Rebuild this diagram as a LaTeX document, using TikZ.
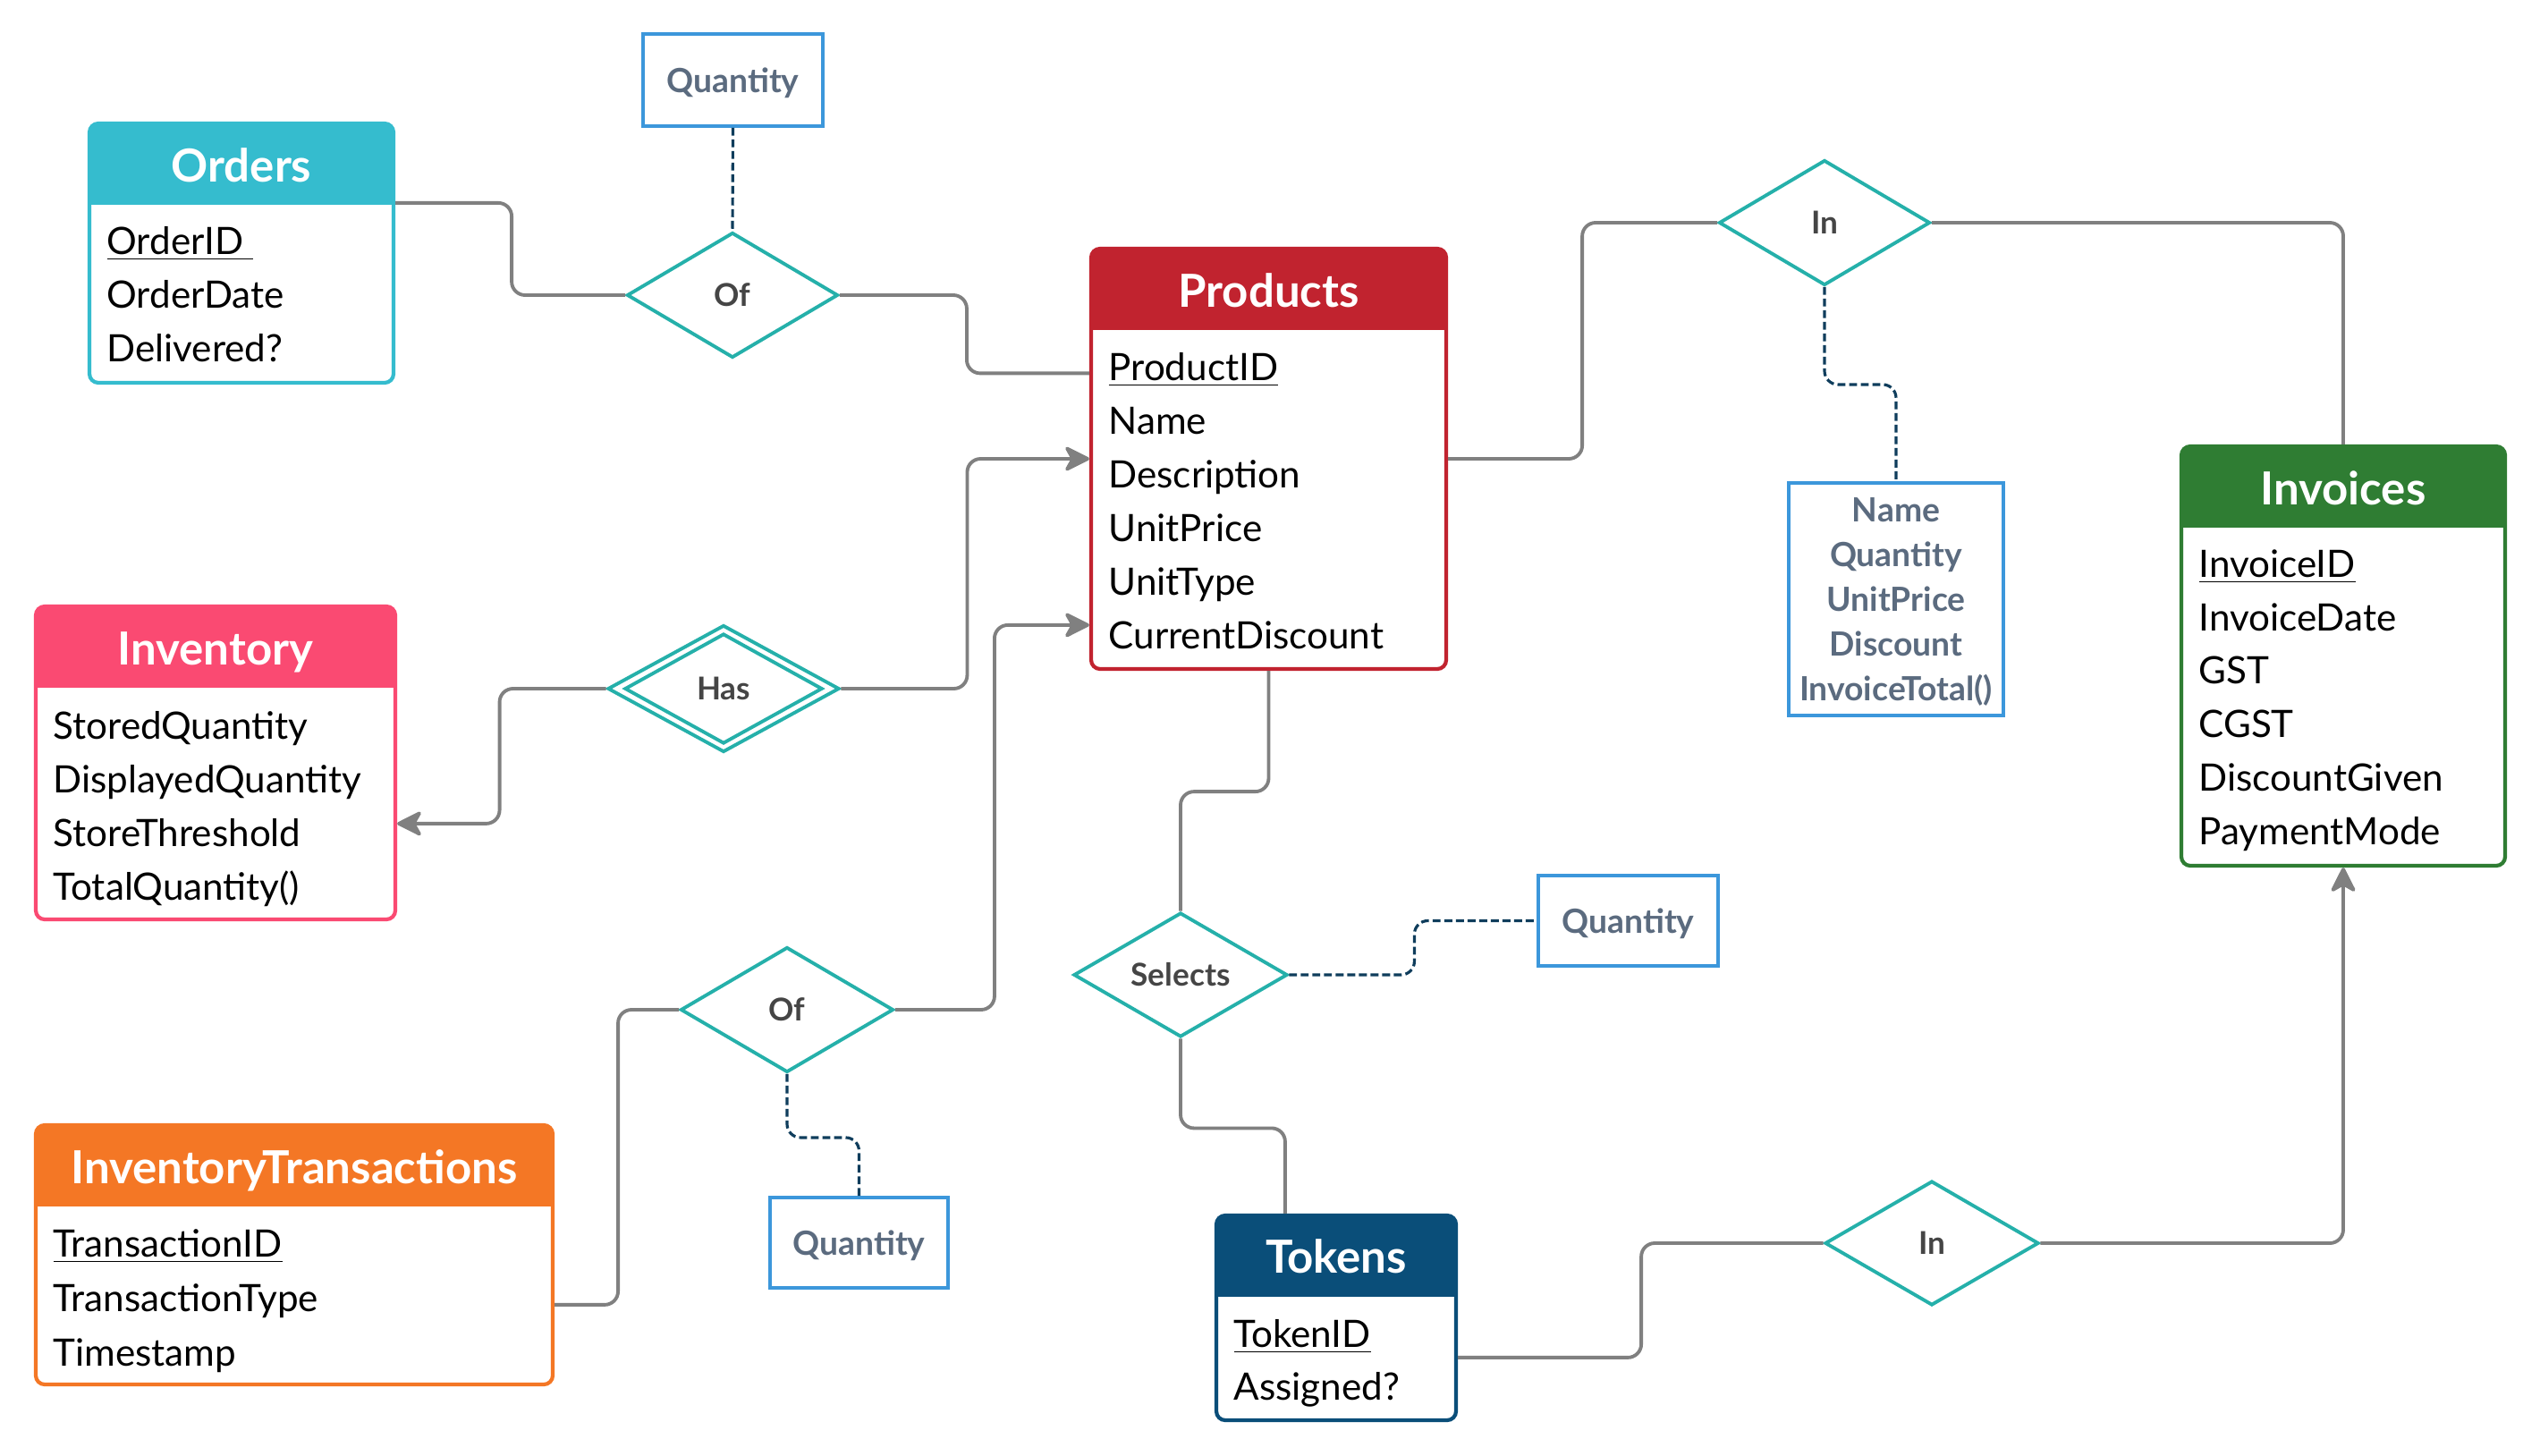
\documentclass[tikz,border=0pt]{standalone}
\usepackage{fontspec}
\setmainfont{Lato}
\usetikzlibrary{shapes.geometric,arrows.meta,positioning}

\definecolor{ordcol}{HTML}{35BCCE}
\definecolor{prodcol}{HTML}{C1232F}
\definecolor{invcol}{HTML}{FA4A72}
\definecolor{transcol}{HTML}{F47725}
\definecolor{tokcol}{HTML}{0A4E79}
\definecolor{billcol}{HTML}{2F7D33}
\definecolor{relcol}{HTML}{25B0AA}
\definecolor{reltext}{HTML}{454545}
\definecolor{attcol}{HTML}{3C97DB}
\definecolor{atttext}{HTML}{5B6B7F}
\definecolor{linkcol}{HTML}{808080}
\definecolor{dashcol}{HTML}{0F3D5C}

\begin{document}
\begin{tikzpicture}[
  entity/.style={draw=#1, fill=white, line width=1.2pt, rounded corners=0.1cm, inner sep=0pt,
    path picture={\fill[#1, sharp corners] (path picture bounding box.north west)
      rectangle ([yshift=-0.91cm]path picture bounding box.north east);}},
  enttitle/.style={text=white, inner sep=0pt, text height=10.4pt, text depth=0pt,
    font=\bfseries\fontsize{14.5}{17}\selectfont},
  entfield/.style={anchor=west, inner sep=0pt, text height=8.6pt, text depth=0pt,
    font=\fontsize{12}{14}\selectfont},
  rel/.style={diamond, draw=relcol, fill=white, line width=1.1pt, inner sep=0pt,
    text=reltext, font=\bfseries\fontsize{10}{12}\selectfont},
  attbox/.style={draw=attcol, line width=1.1pt, inner sep=0pt, align=center, text depth=0pt,
    text=atttext, font=\bfseries\fontsize{10.6}{14.2}\selectfont},
  erlink/.style={draw=linkcol, line width=1.1pt, rounded corners=0.15cm},
  erarrow/.style={erlink, -{Stealth[length=9pt,width=9pt,inset=2.5pt,round]}},
  erdash/.style={draw=dashcol, line width=0.9pt, dash pattern=on 2.5pt off 1.2pt, rounded corners=0.15cm},
]
\useasboundingbox (0,0) rectangle (28.4,-16.28);

% Orders
\node[entity=ordcol, minimum width=3.40cm, minimum height=2.90cm] (orders) at (2.70,-2.83) {};
\node[enttitle] (ordersT) at ([yshift=-0.49cm]orders.north) {Orders};
\foreach \f [count=\i] in {\underline{OrderID\ },OrderDate,Delivered?}
  \node[entfield] (orders-\i) at ([shift={(0.21,{-1.335-0.6*(\i-1)})}]orders.north west) {\f};

% Products
\node[entity=prodcol, minimum width=3.97cm, minimum height=4.70cm] (products) at (14.185,-5.13) {};
\node[enttitle] (productsT) at ([yshift=-0.49cm]products.north) {Products};
\foreach \f [count=\i] in {\underline{ProductID},Name,Description,UnitPrice,UnitType,CurrentDiscount}
  \node[entfield] (products-\i) at ([shift={(0.21,{-1.345-0.6*(\i-1)})}]products.north west) {\f};

% Invoices
\node[entity=billcol, minimum width=3.62cm, minimum height=4.69cm] (invoices) at (26.20,-7.335) {};
\node[enttitle] (invoicesT) at ([yshift=-0.49cm]invoices.north) {Invoices};
\foreach \f [count=\i] in {\underline{InvoiceID},InvoiceDate,GST,CGST,DiscountGiven,PaymentMode}
  \node[entfield] (invoices-\i) at ([shift={(0.21,{-1.335-0.597*(\i-1)})}]invoices.north west) {\f};

% Inventory
\node[entity=invcol, minimum width=4.02cm, minimum height=3.50cm] (inventory) at (2.41,-8.53) {};
\node[enttitle] (inventoryT) at ([yshift=-0.495cm]inventory.north) {Inventory};
\foreach \f [count=\i] in {StoredQuantity,DisplayedQuantity,StoreThreshold,TotalQuantity()}
  \node[entfield] (inventory-\i) at ([shift={(0.21,{-1.355-0.6*(\i-1)})}]inventory.north west) {\f};

% InventoryTransactions
\node[entity=transcol, minimum width=5.78cm, minimum height=2.90cm] (trans) at (3.29,-14.03) {};
\node[enttitle] (transT) at ([yshift=-0.49cm]trans.north) {InventoryTransactions};
\foreach \f [count=\i] in {\underline{TransactionID},TransactionType,Timestamp}
  \node[entfield] (trans-\i) at ([shift={(0.21,{-1.345-0.61*(\i-1)})}]trans.north west) {\f};

% Tokens
\node[entity=tokcol, minimum width=2.68cm, minimum height=2.29cm] (tokens) at (14.94,-14.735) {};
\node[enttitle] (tokensT) at ([yshift=-0.485cm]tokens.north) {Tokens};
\foreach \f [count=\i] in {\underline{TokenID},Assigned?}
  \node[entfield] (tokens-\i) at ([shift={(0.21,{-1.345-0.59*(\i-1)})}]tokens.north west) {\f};

% relationships
\node[rel, minimum width=2.36cm, minimum height=1.40cm] (of1) at (8.19,-3.30) {Of};
\node[rel, minimum width=2.36cm, minimum height=1.40cm] (in1) at (20.40,-2.49) {In};
\node[rel, minimum width=2.59cm, minimum height=1.42cm] (has) at (8.09,-7.70) {};
\node[rel, minimum width=2.21cm, minimum height=1.23cm] (hasI) at (has.center) {Has};
\node[rel, minimum width=2.38cm, minimum height=1.40cm] (of2) at (8.80,-11.29) {Of};
\node[rel, minimum width=2.39cm, minimum height=1.39cm] (selects) at (13.20,-10.90) {Selects};
\node[rel, minimum width=2.39cm, minimum height=1.39cm] (in2) at (21.60,-13.90) {In};

% relationship attributes
\node[attbox, minimum width=2.01cm, minimum height=1.03cm] (qty1) at (8.195,-0.895) {Quantity};
\node[attbox, minimum width=2.40cm, minimum height=2.60cm] (qty2) at (21.20,-6.70)
  {Name\\Quantity\\UnitPrice\\Discount\\InvoiceTotal()};
\node[attbox, minimum width=1.99cm, minimum height=1.01cm] (qty3) at (9.605,-13.895) {Quantity};
\node[attbox, minimum width=2.01cm, minimum height=1.01cm] (qty4) at (18.205,-10.295) {Quantity};

% connectors
\draw[erlink] ([yshift=-0.91cm]orders.north east) -- ++(1.30,0) |- (of1.west);
\draw[erlink] (of1.east) -- ++(1.42,0) |- ([yshift=-1.415cm]products.north west);
\draw[erarrow] (has.east) -- ++(1.41,0) |- (products.west);
\draw[erarrow] (has.west) -- ++(-1.19,0) |- ([yshift=-2.45cm]inventory.north east);
\draw[erarrow] (of2.east) -- ++(1.11,0) |- ([yshift=-4.23cm]products.north west);
\draw[erlink] (of2.west) -- ++(-0.68,0) |- ([yshift=-2.03cm]trans.north east);
\draw[erlink] (products.east) -- ++(1.50,0) |- (in1.west);
\draw[erlink] (in1.east) -| (invoices.north);
\draw[erlink] (products.south) -- ++(0,-1.35) -| (selects.north);
\draw[erlink] (selects.south) -- ++(0,-1.0) -| ([xshift=0.79cm]tokens.north west);
\draw[erlink] ([yshift=-1.61cm]tokens.north east) -- ++(2.05,0) |- (in2.west);
\draw[erarrow] (in2.east) -| (invoices.south);

% dashed attribute links
\draw[erdash] (qty1.south) -- (of1.north);
\draw[erdash] (in1.south) -- ++(0,-1.09) -| (qty2.north);
\draw[erdash] (of2.south) -- ++(0,-0.71) -| (qty3.north);
\draw[erdash] (selects.east) -- ++(1.40,0) |- (qty4.west);
\end{tikzpicture}
\end{document}
